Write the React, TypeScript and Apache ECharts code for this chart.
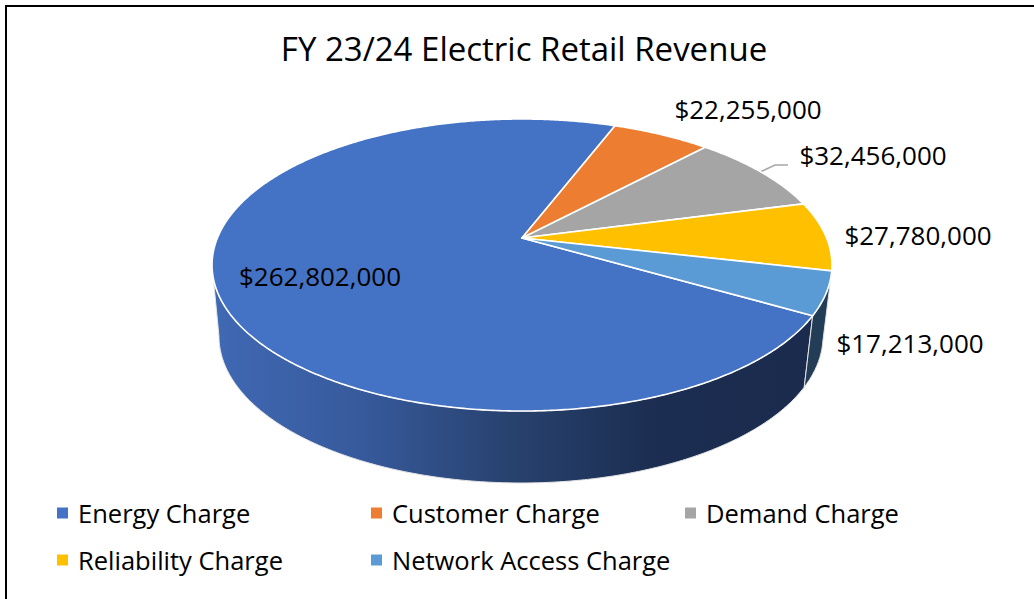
import React, { useEffect, useRef } from "react";
import * as echarts from "echarts";

const titleText = "FY 23/24 Electric Retail Revenue";
const categories = ["Energy Charge", "Customer Charge", "Demand Charge", "Reliability Charge", "Network Access Charge"];
const revenue = [262802000, 22255000, 32456000, 27780000, 17213000];
const sliceColors = ["#4472C4", "#ED7D31", "#A5A5A5", "#FFC000", "#5B9BD5"];
const labelAnchors = [[320, 276], [748, 109], [873, 155], [918, 235], [910, 343]];
const legendSpots = [[57, 500], [371, 500], [685, 500], [57, 547], [371, 547]];

const FONT = "'Open Sans', 'Noto Sans', sans-serif";
const START_DEG = -30;
const K = -0.185;
const SILHOUETTE = [-169.3, -10.7];
const total = revenue.reduce((a, b) => a + b, 0);

type Proj = { cx: number; cy: number; a: number; b: number };
const topFace: Proj = { cx: 522, cy: 238, a: 304.6, b: 141 };
const baseFace: Proj = { cx: 521, cy: 309, a: 296.8, b: 141.8 };

function project(p: Proj, deg: number): number[] {
  const t = (deg * Math.PI) / 180;
  const u = Math.cos(t);
  const v = -Math.sin(t);
  const w = 1 + K * v;
  return [p.cx + (p.a * u) / w, p.cy + (p.b * v) / w];
}

function range(i: number): number[] {
  const before = revenue.slice(0, i).reduce((a, b) => a + b, 0);
  let from = START_DEG - (before / total) * 360;
  let to = from - (revenue[i] / total) * 360;
  while (from < -180) {
    from += 360;
    to += 360;
  }
  return [from, to];
}

function arc(p: Proj, from: number, to: number): number[][] {
  const n = Math.max(2, Math.ceil(Math.abs(from - to) * 2));
  const pts: number[][] = [];
  for (let j = 0; j <= n; j++) pts.push(project(p, from + ((to - from) * j) / n));
  return pts;
}

function money(v: number): string {
  return "$" + v.toLocaleString("en-US");
}

function wallFill(i: number): any {
  if (i === 0) {
    return new echarts.graphic.LinearGradient(
      212, 0, 806, 0,
      [
        { offset: 0, color: "#4069B4" },
        { offset: 0.25, color: "#375A9C" },
        { offset: 0.5, color: "#28426F" },
        { offset: 0.75, color: "#1B2D50" },
        { offset: 1, color: "#1A2B4E" },
      ],
      true
    );
  }
  return "#223D55";
}

function renderWall(params: any) {
  const i = params.dataIndex;
  const [a0, a1] = range(i);
  // a0 > a1, clockwise sweep; only the part facing the viewer has a wall
  const from = Math.min(a0, SILHOUETTE[1]);
  const to = Math.max(a1, SILHOUETTE[0]);
  if (from - to < 3) return { type: "group", children: [] };
  const points = [...arc(topFace, from, to), ...arc(baseFace, to, from)];
  return {
    type: "polygon",
    shape: { points },
    style: { fill: wallFill(i), stroke: "#E4E4E4", lineWidth: 1 },
  };
}

function renderSlice(i: number) {
  return (_params: any, api: any) => {
    const [a0, a1] = range(i);
    const points = [[topFace.cx, topFace.cy], ...arc(topFace, a0, a1)];
    return {
      type: "group",
      children: [
        {
          type: "polygon",
          shape: { points },
          style: { fill: api.visual("color"), stroke: "#FFFFFF", lineWidth: 1.6, lineJoin: "round" },
        },
        {
          type: "text",
          x: labelAnchors[i][0],
          y: labelAnchors[i][1],
          style: {
            text: money(api.value(0)),
            fill: "#000000",
            font: `26px ${FONT}`,
            align: "center",
            verticalAlign: "middle",
          },
        },
      ],
    };
  };
}

export default function App() {
  const ref = useRef<HTMLDivElement>(null);
  useEffect(() => {
    const chart = echarts.init(ref.current!, undefined, { renderer: "svg" });
    chart.setOption({
      animation: false,
      backgroundColor: "#FFFFFF",
      title: {
        text: titleText,
        left: 519,
        top: 27,
        textAlign: "center",
        textStyle: { fontFamily: FONT, fontSize: 33, fontWeight: "normal", color: "#000000" },
      },
      legend: categories.map((name, i) => ({
        data: [name],
        left: legendSpots[i][0],
        top: legendSpots[i][1],
        padding: 0,
        icon: "rect",
        itemWidth: 11,
        itemHeight: 11,
        selectedMode: false,
        textStyle: { fontFamily: FONT, fontSize: 25.5, color: "#000000", padding: [0, 0, 2, 5] },
      })),
      graphic: [
        {
          type: "rect",
          shape: { x: 6, y: 6, width: 1200, height: 800 },
          style: { fill: "none", stroke: "#000000", lineWidth: 2 },
          silent: true,
        },
        {
          type: "polyline",
          shape: { points: [[760, 172], [775, 165], [788, 165]] },
          style: { fill: "none", stroke: "#A6A6A6", lineWidth: 1.5 },
          silent: true,
        },
      ],
      series: [
        {
          type: "custom",
          name: "walls",
          coordinateSystem: "none",
          renderItem: renderWall,
          data: revenue.map((v) => [v]),
          silent: true,
        },
        ...categories.map((name, i) => ({
          type: "custom",
          name,
          coordinateSystem: "none",
          renderItem: renderSlice(i),
          itemStyle: { color: sliceColors[i] },
          data: [[revenue[i]]],
          silent: true,
        })),
      ],
    });
    return () => chart.dispose();
  }, []);
  return <div ref={ref} style={{ position: "fixed", left: 0, top: 0, width: 1034, height: 599 }} />;
}
